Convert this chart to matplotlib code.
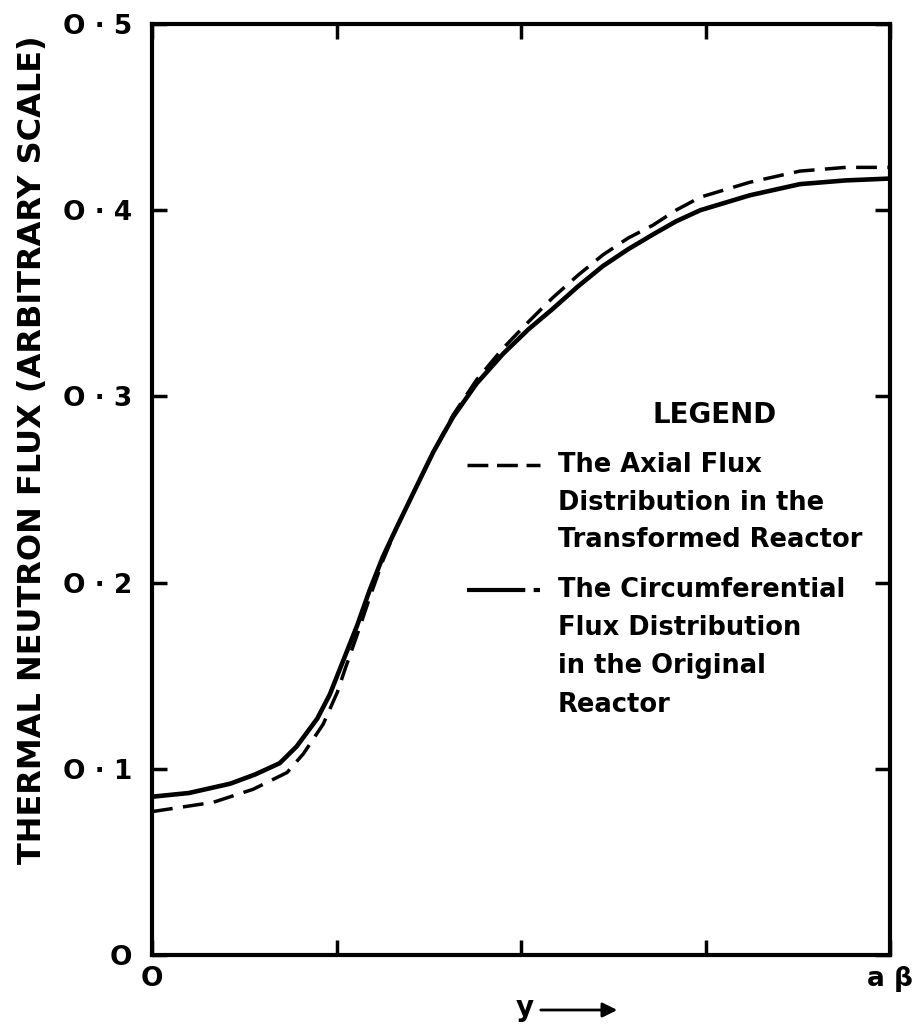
import matplotlib.pyplot as plt

plt.rcParams['font.family'] = ['DejaVu Sans']
plt.rcParams['font.weight'] = 'bold'

# curve values (x as fraction of a*beta)
solid_x = [0, 0.05, 0.106, 0.14, 0.173, 0.196, 0.224, 0.241, 0.259, 0.278, 0.295, 0.313,
           0.332, 0.354, 0.381, 0.408, 0.44, 0.476, 0.51, 0.543, 0.577, 0.611, 0.645,
           0.679, 0.71, 0.743, 0.81, 0.878, 0.94, 1.0]
solid_y = [0.085, 0.087, 0.092, 0.097, 0.103, 0.112, 0.127, 0.140, 0.158, 0.177, 0.196, 0.214,
           0.230, 0.248, 0.270, 0.289, 0.307, 0.323, 0.336, 0.347, 0.359, 0.370, 0.379,
           0.387, 0.394, 0.400, 0.408, 0.414, 0.416, 0.417]

dash_x = [0, 0.083, 0.137, 0.183, 0.205, 0.232, 0.251, 0.262, 0.278, 0.295, 0.313, 0.332,
          0.354, 0.381, 0.408, 0.44, 0.476, 0.51, 0.543, 0.577, 0.611, 0.645, 0.679,
          0.71, 0.743, 0.81, 0.878, 0.94, 1.0]
dash_y = [0.077, 0.082, 0.089, 0.098, 0.108, 0.124, 0.141, 0.154, 0.172, 0.192, 0.212, 0.230,
          0.248, 0.270, 0.290, 0.309, 0.326, 0.340, 0.353, 0.365, 0.376, 0.385, 0.392,
          0.400, 0.407, 0.415, 0.421, 0.423, 0.423]

yticks = [0, 0.1, 0.2, 0.3, 0.4, 0.5]
ytick_labels = ['O', 'O · 1', 'O · 2', 'O · 3', 'O · 4', 'O · 5']
xticks = [0, 0.25, 0.5, 0.75, 1.0]
xtick_labels = ['O', '', '', '', 'a β']

legend_1 = ['The Axial Flux', 'Distribution in the', 'Transformed Reactor']
legend_2 = ['The Circumferential', 'Flux Distribution', 'in the Original', 'Reactor']

fig = plt.figure(figsize=(9.22, 10.24), dpi=100)
ax = fig.add_axes([152/922, 1-955/1024, 738/922, 931/1024])

ax.plot(dash_x, dash_y, color='black', lw=2.5, dashes=(6, 3))
ax.plot(solid_x, solid_y, color='black', lw=3.3)

ax.set_xlim(0, 1)
ax.set_ylim(0, 0.5)
for s in ax.spines.values():
    s.set_linewidth(3)

ax.set_yticks(yticks)
ax.set_yticklabels(ytick_labels, fontsize=19)
ax.set_xticks(xticks)
ax.set_xticklabels(xtick_labels, fontsize=19)
ax.tick_params(direction='in', length=11, width=2.5, top=True, right=True)
ax.tick_params(axis='y', pad=14)
ax.tick_params(axis='x', pad=8)

fig.text(33/922, 1-450/1024, 'THERMAL NEUTRON FLUX (ARBITRARY SCALE)', rotation=90,
         ha='center', va='center', fontsize=23)

# x axis label with arrow
fig.text(525/922, 1-1008/1024, 'y', ha='center', va='center', fontsize=20)
ax.annotate('', xy=(620, 1024-1010), xytext=(538, 1024-1010), xycoords='figure pixels',
            textcoords='figure pixels',
            arrowprops=dict(arrowstyle='-|>', color='black', lw=2, mutation_scale=22),
            annotation_clip=False)

# hand-drawn legend
ax.text(0.763, 0.580, 'LEGEND', transform=ax.transAxes, ha='center', va='center', fontsize=20)
tx = 0.550
for i, t in enumerate(legend_1):
    ax.text(tx, 0.526 - i*0.040, t, transform=ax.transAxes, ha='left', va='center', fontsize=18.5)
for i, t in enumerate(legend_2):
    ax.text(tx, 0.392 - i*0.041, t, transform=ax.transAxes, ha='left', va='center', fontsize=18.5)
ax.plot([0.427, 0.526], [0.526, 0.526], transform=ax.transAxes, color='black', lw=2.5,
        dashes=(6, 2.5))
ax.plot([0.427, 0.526], [0.392, 0.392], transform=ax.transAxes, color='black', lw=3,
        dashes=(14, 2))

fig.savefig('out.png', dpi=100)
